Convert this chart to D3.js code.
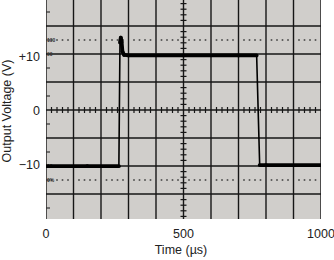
<!DOCTYPE html>
<html>
<head>
<meta charset="utf-8">
<script src="https://cdn.jsdelivr.net/npm/d3@7"></script>
<style>
  body { margin: 0; background: #fff; }
  svg text { font-family: "Liberation Sans", Arial, sans-serif; }
</style>
</head>
<body>
<svg id="chart"></svg>
<script>
// scope trace
const times = [0, 150, 265, 269, 272, 275, 278, 284, 300, 500, 700, 766, 777, 800, 1000]
const volts = [-10.4, -10.4, -10.4, 12.5, 13.4, 12.6, 10.8, 10.2, 10.1, 10.1, 10.1, 10.1, -10.2, -10.2, -10.2]

const xTicks = [0, 500, 1000]
const xTickLabels = ['0', '500', '1000']
const yTicks = [10, 0, -10]
const yTickLabels = ['+10', '0', '\u221210']

// graticule marker labels (percent lines on the scope screen)
const markDivs = [2.5, 2, -2, -2.5]
const markLabels = ['100', '90', '10', '0%']

const width = 334, height = 260
const plot = {left: 46, right: 321, top: 0, bottom: 219}

const svg = d3.select('#chart')
  .attr('width', width)
  .attr('height', height)

const x = d3.scaleLinear().domain([0, 1000]).range([plot.left, plot.right])
const y = d3.scaleLinear().domain([-10, 10]).range([164, 56])
// graticule divisions (8 vertical divs, screen is a bit cropped)
const yDiv = d3.scaleLinear().domain([-4, 4]).range([222, -2])

svg.append('clipPath').attr('id', 'clip')
  .append('rect')
  .attr('x', plot.left).attr('y', plot.top)
  .attr('width', plot.right - plot.left).attr('height', plot.bottom - plot.top)

svg.append('rect')
  .attr('x', plot.left).attr('y', plot.top)
  .attr('width', plot.right - plot.left).attr('height', plot.bottom - plot.top)
  .attr('fill', '#d0cecb')

const g = svg.append('g').attr('clip-path', 'url(#clip)')

const gridColor = '#161616'
const xMajor = d3.range(0, 1001, 100)
const xMinor = d3.range(0, 1001, 20).filter(d => d % 100 !== 0)
const yMajor = d3.range(-4, 4.01, 1)
const yMinor = d3.range(-4, 4.01, 0.2).filter(d => Math.abs(d - Math.round(d)) > 0.01)

g.selectAll('.vgrid').data(xMajor).enter().append('line')
  .attr('x1', d => x(d)).attr('x2', d => x(d))
  .attr('y1', plot.top).attr('y2', plot.bottom)
  .attr('stroke', gridColor).attr('stroke-width', 1.4)

g.selectAll('.hgrid').data(yMajor).enter().append('line')
  .attr('x1', plot.left).attr('x2', plot.right)
  .attr('y1', d => yDiv(d)).attr('y2', d => yDiv(d))
  .attr('stroke', gridColor).attr('stroke-width', 1.4)

// minor ticks on the centre cross
g.selectAll('.hminor').data(xMinor).enter().append('line')
  .attr('x1', d => x(d)).attr('x2', d => x(d))
  .attr('y1', yDiv(0) - 3).attr('y2', yDiv(0) + 3)
  .attr('stroke', gridColor).attr('stroke-width', 1.2)

g.selectAll('.vminor').data(yMinor).enter().append('line')
  .attr('x1', x(500) - 3).attr('x2', x(500) + 3)
  .attr('y1', d => yDiv(d)).attr('y2', d => yDiv(d))
  .attr('stroke', gridColor).attr('stroke-width', 1.2)

// half-division marks on the left edge
g.selectAll('.edge').data(d3.range(-3.5, 4, 1)).enter().append('line')
  .attr('x1', plot.left).attr('x2', plot.left + 4)
  .attr('y1', d => yDiv(d)).attr('y2', d => yDiv(d))
  .attr('stroke', '#333').attr('stroke-width', 1.2)

// dotted 0% / 100% lines
const dots = []
;[2.5, -2.5].forEach(dv => xMinor.forEach(t => dots.push([t, dv])))
g.selectAll('.dot').data(dots).enter().append('rect')
  .attr('x', d => x(d[0]) - 0.8).attr('y', d => yDiv(d[1]) - 0.8)
  .attr('width', 1.6).attr('height', 1.6)
  .attr('fill', '#444')

g.selectAll('.mark').data(markDivs).enter().append('text')
  .attr('x', plot.left + 1).attr('y', d => yDiv(d) + 2)
  .attr('font-size', 5).attr('font-weight', 'bold')
  .attr('fill', '#333')
  .text((d, i) => markLabels[i])

// trace
const pts = times.map((t, i) => [x(t), y(volts[i])])
g.append('path')
  .attr('d', d3.line()(pts))
  .attr('fill', 'none').attr('stroke', '#000').attr('stroke-width', 1.6)

// slow parts of the trace glow brighter -> thicker
const slow = d3.pairs(times.map((t, i) => ({t, v: volts[i]})))
  .filter(p => Math.abs(p[1].v - p[0].v) < 4)
g.selectAll('.thick').data(slow).enter().append('line')
  .attr('x1', d => x(d[0].t)).attr('y1', d => y(d[0].v))
  .attr('x2', d => x(d[1].t)).attr('y2', d => y(d[1].v))
  .attr('stroke', '#000').attr('stroke-width', 3.8)
  .attr('stroke-linecap', 'round')

// axis labels
svg.selectAll('.xlab').data(xTicks).enter().append('text')
  .attr('x', d => x(d)).attr('y', 238)
  .attr('text-anchor', 'middle').attr('font-size', 12.5).attr('fill', '#222')
  .text((d, i) => xTickLabels[i])

svg.selectAll('.ylab').data(yTicks).enter().append('text')
  .attr('x', 40).attr('y', d => y(d) + 4.5)
  .attr('text-anchor', 'end').attr('font-size', 12.5).attr('fill', '#222')
  .text((d, i) => yTickLabels[i])

svg.append('text')
  .attr('x', 181).attr('y', 254)
  .attr('text-anchor', 'middle').attr('font-size', 12.5).attr('fill', '#222')
  .text('Time (\u00b5s)')

svg.append('text')
  .attr('transform', 'translate(10.5, 111) rotate(-90)')
  .attr('text-anchor', 'middle').attr('font-size', 12.5).attr('fill', '#222')
  .text('Output Voltage (V)')
</script>
</body>
</html>
